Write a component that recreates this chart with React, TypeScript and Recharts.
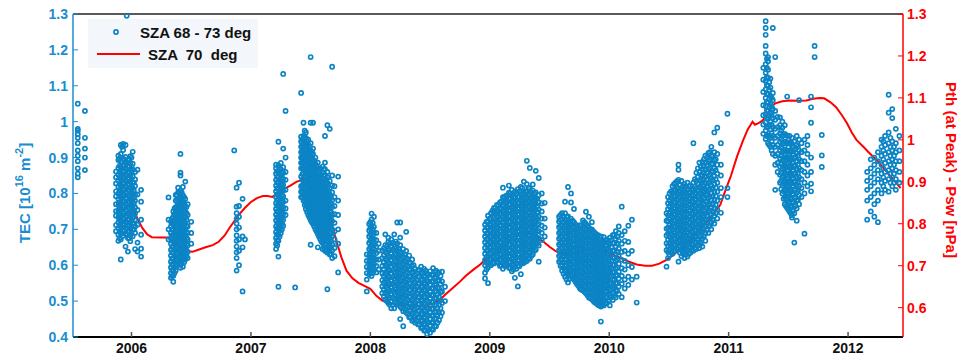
import { ComposedChart, Scatter, Line, XAxis, YAxis } from 'recharts'

// TEC observations, grouped by date column: [year, TEC values (1e16 m^-2)]
const tecColumns: [number, number[]][] = [
  [2005.55, [0.98, 0.975, 0.965, 0.955, 0.94, 0.92, 0.905, 0.89, 0.87, 0.855, 0.845, 1.05]],
  [2005.61, [1.03, 0.955, 0.925, 0.9, 0.865]],
  [2005.87, [0.695, 0.712, 0.738, 0.751, 0.77, 0.792, 0.806, 0.828, 0.845, 0.861]],
  [2005.89, [0.668, 0.685, 0.703, 0.719, 0.734, 0.752, 0.768, 0.785, 0.8, 0.818, 0.836, 0.852, 0.871, 0.893, 0.905]],
  [2005.91, [0.616, 0.672, 0.69, 0.708, 0.724, 0.741, 0.756, 0.772, 0.79, 0.807, 0.823, 0.842, 0.858, 0.874, 0.889, 0.91, 0.935]],
  [2005.93, [0.682, 0.697, 0.715, 0.731, 0.746, 0.763, 0.779, 0.796, 0.812, 0.829, 0.845, 0.862, 0.879, 0.896, 0.921, 0.938]],
  [2005.95, [0.652, 0.687, 0.705, 0.721, 0.738, 0.754, 0.771, 0.787, 0.803, 0.82, 0.838, 0.853, 0.87, 0.888, 0.902, 0.935]],
  [2005.96, [1.295]],
  [2005.97, [0.638, 0.676, 0.694, 0.711, 0.727, 0.744, 0.76, 0.777, 0.794, 0.81, 0.826, 0.843, 0.859, 0.876, 0.892]],
  [2005.99, [0.667, 0.683, 0.701, 0.717, 0.735, 0.75, 0.767, 0.784, 0.8, 0.816, 0.833, 0.851, 0.867, 0.885, 0.904]],
  [2006.01, [0.681, 0.699, 0.716, 0.733, 0.749, 0.765, 0.782, 0.798, 0.815, 0.831, 0.848, 0.866, 0.883, 0.916]],
  [2006.03, [0.645, 0.69, 0.708, 0.726, 0.744, 0.761, 0.78, 0.797, 0.821, 0.839, 0.86]],
  [2006.05, [0.638, 0.663, 0.713, 0.754, 0.797, 0.866]],
  [2006.08, [0.624, 0.646, 0.685, 0.727, 0.777, 0.81]],
  [2006.31, [0.789, 0.727, 0.7, 0.672]],
  [2006.33, [0.565, 0.578, 0.594, 0.61, 0.627, 0.643, 0.66, 0.676, 0.69, 0.708, 0.722]],
  [2006.35, [0.554, 0.571, 0.587, 0.603, 0.619, 0.636, 0.652, 0.668, 0.684, 0.701, 0.717, 0.735, 0.75]],
  [2006.37, [0.585, 0.6, 0.616, 0.632, 0.648, 0.664, 0.68, 0.697, 0.713, 0.73, 0.746, 0.762, 0.78, 0.796]],
  [2006.39, [0.608, 0.624, 0.64, 0.656, 0.672, 0.688, 0.705, 0.721, 0.737, 0.753, 0.77, 0.786, 0.803, 0.816]],
  [2006.41, [0.593, 0.612, 0.628, 0.644, 0.66, 0.677, 0.693, 0.709, 0.725, 0.742, 0.758, 0.774, 0.79, 0.808, 0.85, 0.858, 0.91]],
  [2006.43, [0.596, 0.615, 0.631, 0.647, 0.663, 0.679, 0.696, 0.712, 0.728, 0.745, 0.761, 0.777, 0.795, 0.818]],
  [2006.45, [0.616, 0.632, 0.65, 0.667, 0.683, 0.7, 0.716, 0.733, 0.75, 0.766, 0.785, 0.833]],
  [2006.47, [0.62, 0.637, 0.655, 0.672, 0.69, 0.708, 0.74, 0.77]],
  [2006.5, [0.721, 0.66, 0.69]],
  [2006.86, [0.92]],
  [2006.88, [0.816, 0.763, 0.745, 0.73, 0.716, 0.7, 0.683, 0.668, 0.652, 0.636, 0.62, 0.585]],
  [2006.9, [0.83, 0.765, 0.735, 0.705, 0.672, 0.64, 0.6]],
  [2006.93, [0.785, 0.68, 0.527, 0.65]],
  [2006.95, [0.672]],
  [2007.21, [0.645, 0.66, 0.676, 0.692, 0.708, 0.725, 0.741, 0.757, 0.773, 0.79, 0.806, 0.822, 0.838, 0.855, 0.87, 0.88]],
  [2007.23, [0.54, 0.624, 0.668, 0.684, 0.7, 0.716, 0.733, 0.749, 0.765, 0.782, 0.798, 0.814, 0.83, 0.846, 0.862, 0.878, 0.944]],
  [2007.25, [0.69, 0.706, 0.722, 0.738, 0.754, 0.77, 0.787, 0.803, 0.819, 0.835, 0.852, 0.868, 0.885]],
  [2007.27, [0.71, 0.727, 0.743, 0.76, 0.776, 0.792, 0.808, 0.824, 0.84, 0.857, 0.873, 0.925, 1.133]],
  [2007.29, [0.74, 0.758, 0.78, 0.81, 0.838, 0.86, 0.9, 1.03]],
  [2007.37, [0.538]],
  [2007.42, [0.79, 0.805, 0.82, 0.847, 0.87, 0.885, 0.9, 0.915, 0.93, 0.945, 0.958, 1.08]],
  [2007.44, [0.78, 0.795, 0.81, 0.825, 0.84, 0.856, 0.871, 0.886, 0.9, 0.915, 0.93, 0.944, 0.96, 0.997]],
  [2007.46, [0.757, 0.772, 0.787, 0.802, 0.818, 0.833, 0.848, 0.863, 0.878, 0.893, 0.909, 0.924, 0.94, 0.955, 0.97]],
  [2007.48, [0.74, 0.755, 0.77, 0.786, 0.801, 0.816, 0.831, 0.846, 0.861, 0.877, 0.892, 0.907, 0.922, 0.937, 0.95]],
  [2007.5, [0.657, 0.725, 0.74, 0.755, 0.77, 0.785, 0.8, 0.815, 0.83, 0.845, 0.86, 0.875, 0.89, 0.905, 0.92, 0.94, 0.997, 1.18]],
  [2007.52, [0.715, 0.73, 0.745, 0.76, 0.775, 0.79, 0.805, 0.82, 0.835, 0.85, 0.865, 0.88, 0.895, 0.91, 0.925, 0.997]],
  [2007.54, [0.7, 0.716, 0.731, 0.746, 0.761, 0.776, 0.791, 0.806, 0.821, 0.836, 0.851, 0.866, 0.882, 0.9]],
  [2007.56, [0.65, 0.687, 0.702, 0.717, 0.732, 0.747, 0.762, 0.777, 0.792, 0.807, 0.822, 0.837, 0.852, 0.868, 0.886]],
  [2007.58, [0.673, 0.688, 0.703, 0.718, 0.733, 0.748, 0.763, 0.778, 0.793, 0.808, 0.823, 0.838, 0.853, 0.87]],
  [2007.6, [0.645, 0.662, 0.677, 0.692, 0.707, 0.722, 0.737, 0.752, 0.767, 0.782, 0.797, 0.812, 0.827, 0.842, 0.858, 0.875]],
  [2007.62, [0.64, 0.655, 0.67, 0.685, 0.7, 0.715, 0.73, 0.745, 0.76, 0.775, 0.79, 0.805, 0.82, 0.836, 0.852, 0.868, 0.886, 0.96]],
  [2007.64, [0.533, 0.635, 0.65, 0.665, 0.68, 0.695, 0.71, 0.725, 0.74, 0.755, 0.77, 0.785, 0.8, 0.815, 0.83, 0.845, 0.86, 0.99]],
  [2007.66, [0.63, 0.645, 0.66, 0.675, 0.69, 0.705, 0.72, 0.735, 0.75, 0.765, 0.78, 0.797, 0.815, 0.835, 0.98]],
  [2007.68, [0.62, 0.641, 0.658, 0.682, 0.7, 0.723, 0.74, 0.762, 0.781, 0.803, 0.822, 0.85, 1.153]],
  [2007.7, [0.625, 0.648, 0.672, 0.695, 0.718, 0.742, 0.765, 0.79, 0.82]],
  [2007.73, [0.58, 0.66, 0.7, 0.74, 0.78, 0.847]],
  [2007.97, [0.527, 0.56, 0.578, 0.595, 0.612, 0.63]],
  [2007.99, [0.575, 0.592, 0.61, 0.627, 0.645, 0.662, 0.68, 0.697, 0.715]],
  [2008.01, [0.57, 0.588, 0.605, 0.622, 0.64, 0.657, 0.675, 0.692, 0.71, 0.728, 0.744]],
  [2008.03, [0.585, 0.602, 0.62, 0.637, 0.655, 0.672, 0.69, 0.707, 0.735]],
  [2008.05, [0.58, 0.598, 0.616, 0.634, 0.652, 0.67, 0.69]],
  [2008.07, [0.588, 0.616, 0.64, 0.66]],
  [2008.1, [0.522, 0.541, 0.558, 0.577, 0.598, 0.62, 0.641]],
  [2008.125, [0.505, 0.524, 0.543, 0.562, 0.58, 0.6, 0.618, 0.637, 0.656, 0.686]],
  [2008.15, [0.495, 0.514, 0.533, 0.552, 0.57, 0.589, 0.608, 0.627, 0.646, 0.665, 0.677]],
  [2008.175, [0.48, 0.5, 0.52, 0.539, 0.558, 0.577, 0.596, 0.615, 0.634, 0.653, 0.672]],
  [2008.2, [0.48, 0.505, 0.524, 0.543, 0.562, 0.581, 0.6, 0.619, 0.638, 0.657, 0.686]],
  [2008.225, [0.49, 0.509, 0.528, 0.547, 0.566, 0.585, 0.604, 0.623, 0.642, 0.661, 0.719]],
  [2008.25, [0.45, 0.485, 0.504, 0.523, 0.542, 0.561, 0.58, 0.599, 0.618, 0.637, 0.656, 0.677, 0.719]],
  [2008.275, [0.43, 0.472, 0.491, 0.51, 0.529, 0.548, 0.567, 0.586, 0.605, 0.624, 0.645]],
  [2008.3, [0.468, 0.487, 0.506, 0.525, 0.544, 0.563, 0.582, 0.601, 0.62, 0.64, 0.693]],
  [2008.325, [0.455, 0.474, 0.493, 0.512, 0.531, 0.55, 0.569, 0.588, 0.607, 0.627]],
  [2008.35, [0.445, 0.464, 0.483, 0.502, 0.521, 0.54, 0.559, 0.578, 0.597, 0.616]],
  [2008.375, [0.44, 0.458, 0.477, 0.496, 0.515, 0.534, 0.553, 0.572, 0.59]],
  [2008.4, [0.435, 0.454, 0.473, 0.492, 0.511, 0.53, 0.549, 0.568, 0.587]],
  [2008.425, [0.425, 0.444, 0.463, 0.482, 0.501, 0.52, 0.539, 0.558, 0.577, 0.596]],
  [2008.45, [0.418, 0.437, 0.456, 0.475, 0.494, 0.513, 0.532, 0.551, 0.57, 0.59]],
  [2008.475, [0.408, 0.425, 0.444, 0.463, 0.482, 0.501, 0.52, 0.539, 0.558, 0.577]],
  [2008.5, [0.412, 0.431, 0.45, 0.469, 0.488, 0.507, 0.526, 0.545, 0.564, 0.583]],
  [2008.525, [0.42, 0.44, 0.459, 0.478, 0.497, 0.516, 0.535, 0.554, 0.573, 0.592]],
  [2008.55, [0.43, 0.452, 0.471, 0.49, 0.509, 0.528, 0.547, 0.566, 0.585]],
  [2008.575, [0.447, 0.468, 0.49, 0.512, 0.535, 0.558, 0.58]],
  [2008.6, [0.468, 0.495, 0.527, 0.555, 0.582]],
  [2008.625, [0.5, 0.54]],
  [2008.96, [0.563, 0.579, 0.6, 0.615, 0.632, 0.648, 0.664, 0.68, 0.697, 0.713]],
  [2008.985, [0.55, 0.594, 0.61, 0.626, 0.642, 0.658, 0.674, 0.69, 0.706, 0.722, 0.738]],
  [2009.01, [0.6, 0.616, 0.632, 0.648, 0.664, 0.68, 0.696, 0.712, 0.728, 0.745]],
  [2009.035, [0.605, 0.621, 0.637, 0.653, 0.669, 0.685, 0.701, 0.717, 0.733, 0.749, 0.76]],
  [2009.06, [0.61, 0.626, 0.642, 0.658, 0.674, 0.69, 0.706, 0.722, 0.738, 0.754, 0.768]],
  [2009.085, [0.598, 0.614, 0.63, 0.646, 0.662, 0.678, 0.694, 0.71, 0.726, 0.742, 0.758, 0.775]],
  [2009.11, [0.59, 0.608, 0.624, 0.64, 0.656, 0.672, 0.688, 0.704, 0.72, 0.736, 0.752, 0.768, 0.79, 0.816]],
  [2009.135, [0.6, 0.616, 0.632, 0.648, 0.664, 0.68, 0.696, 0.712, 0.728, 0.744, 0.76, 0.776, 0.793]],
  [2009.16, [0.593, 0.609, 0.625, 0.641, 0.657, 0.673, 0.689, 0.705, 0.721, 0.737, 0.753, 0.769, 0.785, 0.802, 0.822]],
  [2009.185, [0.583, 0.6, 0.618, 0.634, 0.65, 0.666, 0.682, 0.698, 0.714, 0.73, 0.746, 0.762, 0.778, 0.795, 0.81]],
  [2009.21, [0.565, 0.596, 0.612, 0.628, 0.644, 0.66, 0.676, 0.692, 0.708, 0.724, 0.74, 0.756, 0.772, 0.788, 0.805]],
  [2009.235, [0.541, 0.598, 0.614, 0.63, 0.646, 0.662, 0.678, 0.694, 0.71, 0.726, 0.742, 0.758, 0.774, 0.79, 0.812]],
  [2009.26, [0.575, 0.605, 0.621, 0.637, 0.653, 0.669, 0.685, 0.701, 0.717, 0.733, 0.749, 0.765, 0.781, 0.798, 0.818]],
  [2009.285, [0.607, 0.623, 0.639, 0.655, 0.671, 0.687, 0.703, 0.719, 0.735, 0.751, 0.767, 0.783, 0.8, 0.833]],
  [2009.31, [0.612, 0.628, 0.644, 0.66, 0.676, 0.692, 0.708, 0.724, 0.74, 0.756, 0.772, 0.788, 0.805, 0.826, 0.891]],
  [2009.335, [0.618, 0.634, 0.65, 0.666, 0.682, 0.698, 0.714, 0.73, 0.746, 0.762, 0.778, 0.795, 0.815, 0.871]],
  [2009.36, [0.63, 0.646, 0.662, 0.678, 0.694, 0.71, 0.726, 0.742, 0.758, 0.774, 0.79, 0.808, 0.825]],
  [2009.385, [0.643, 0.659, 0.675, 0.691, 0.707, 0.723, 0.739, 0.755, 0.771, 0.787, 0.803, 0.863]],
  [2009.41, [0.61, 0.655, 0.675, 0.695, 0.715, 0.735, 0.755, 0.775, 0.795, 0.843]],
  [2009.435, [0.67, 0.69, 0.71, 0.73, 0.75, 0.772, 0.8]],
  [2009.46, [0.68, 0.705, 0.73, 0.774]],
  [2009.58, [0.61, 0.626, 0.642, 0.658, 0.674, 0.69, 0.706, 0.722, 0.735]],
  [2009.605, [0.585, 0.6, 0.616, 0.632, 0.648, 0.664, 0.68, 0.696, 0.712, 0.728, 0.745]],
  [2009.63, [0.568, 0.584, 0.6, 0.616, 0.632, 0.648, 0.664, 0.68, 0.696, 0.712, 0.728, 0.745, 0.777]],
  [2009.655, [0.552, 0.576, 0.592, 0.608, 0.624, 0.64, 0.656, 0.672, 0.688, 0.704, 0.72, 0.736, 0.818]],
  [2009.68, [0.57, 0.586, 0.602, 0.618, 0.634, 0.65, 0.666, 0.682, 0.698, 0.714, 0.73, 0.8, 0.775]],
  [2009.705, [0.56, 0.576, 0.592, 0.608, 0.624, 0.64, 0.656, 0.672, 0.688, 0.704, 0.72, 0.757]],
  [2009.73, [0.548, 0.564, 0.58, 0.596, 0.612, 0.628, 0.644, 0.66, 0.676, 0.692, 0.708]],
  [2009.755, [0.535, 0.551, 0.567, 0.583, 0.599, 0.615, 0.631, 0.647, 0.663, 0.679, 0.695, 0.712]],
  [2009.78, [0.53, 0.546, 0.562, 0.578, 0.594, 0.61, 0.626, 0.642, 0.658, 0.674, 0.69, 0.706, 0.725]],
  [2009.805, [0.522, 0.538, 0.554, 0.57, 0.586, 0.602, 0.618, 0.634, 0.65, 0.666, 0.682, 0.698, 0.715, 0.749]],
  [2009.83, [0.51, 0.526, 0.542, 0.558, 0.574, 0.59, 0.606, 0.622, 0.638, 0.654, 0.67, 0.686, 0.705, 0.735]],
  [2009.855, [0.505, 0.521, 0.537, 0.553, 0.569, 0.585, 0.601, 0.617, 0.633, 0.649, 0.665, 0.681, 0.7, 0.72]],
  [2009.88, [0.496, 0.512, 0.528, 0.544, 0.56, 0.576, 0.592, 0.608, 0.624, 0.64, 0.656, 0.672, 0.69]],
  [2009.905, [0.49, 0.506, 0.522, 0.538, 0.554, 0.57, 0.586, 0.602, 0.618, 0.634, 0.65, 0.666, 0.684]],
  [2009.93, [0.443, 0.485, 0.501, 0.517, 0.533, 0.549, 0.565, 0.581, 0.597, 0.613, 0.629, 0.645, 0.661, 0.68]],
  [2009.955, [0.488, 0.504, 0.52, 0.536, 0.552, 0.568, 0.584, 0.6, 0.616, 0.632, 0.648, 0.664, 0.678]],
  [2009.98, [0.495, 0.511, 0.527, 0.543, 0.559, 0.575, 0.591, 0.607, 0.623, 0.639, 0.655, 0.671]],
  [2010.005, [0.488, 0.515, 0.533, 0.551, 0.569, 0.587, 0.605, 0.623, 0.641, 0.659, 0.677]],
  [2010.03, [0.503, 0.522, 0.543, 0.561, 0.582, 0.601, 0.622, 0.64, 0.662, 0.684]],
  [2010.055, [0.51, 0.531, 0.55, 0.572, 0.59, 0.612, 0.63, 0.652, 0.673, 0.695]],
  [2010.08, [0.52, 0.541, 0.563, 0.582, 0.604, 0.625, 0.646, 0.668, 0.69, 0.708]],
  [2010.105, [0.511, 0.548, 0.57, 0.592, 0.615, 0.637, 0.66, 0.684, 0.763]],
  [2010.13, [0.535, 0.56, 0.588, 0.612, 0.64, 0.668, 0.695]],
  [2010.16, [0.545, 0.568, 0.6, 0.632, 0.665, 0.71]],
  [2010.19, [0.56, 0.595, 0.64, 0.727]],
  [2010.23, [0.496, 0.568]],
  [2010.48, [0.596, 0.642, 0.661, 0.683, 0.702, 0.724, 0.745]],
  [2010.505, [0.628, 0.645, 0.662, 0.679, 0.696, 0.713, 0.73, 0.747, 0.764, 0.78, 0.8]],
  [2010.53, [0.632, 0.649, 0.666, 0.683, 0.7, 0.717, 0.734, 0.751, 0.768, 0.785, 0.802, 0.82]],
  [2010.555, [0.64, 0.657, 0.674, 0.691, 0.708, 0.725, 0.742, 0.759, 0.776, 0.793, 0.81, 0.83]],
  [2010.58, [0.61, 0.645, 0.662, 0.679, 0.696, 0.713, 0.73, 0.747, 0.764, 0.781, 0.798, 0.815, 0.838, 0.866, 0.88]],
  [2010.605, [0.625, 0.642, 0.659, 0.676, 0.693, 0.71, 0.727, 0.744, 0.761, 0.778, 0.795, 0.812, 0.835]],
  [2010.63, [0.62, 0.638, 0.655, 0.672, 0.689, 0.706, 0.723, 0.74, 0.757, 0.774, 0.791, 0.808, 0.826]],
  [2010.655, [0.624, 0.641, 0.658, 0.675, 0.692, 0.709, 0.726, 0.743, 0.76, 0.777, 0.794, 0.811, 0.83]],
  [2010.68, [0.635, 0.652, 0.669, 0.686, 0.703, 0.72, 0.737, 0.754, 0.771, 0.788, 0.805, 0.822]],
  [2010.705, [0.64, 0.657, 0.674, 0.691, 0.708, 0.725, 0.742, 0.759, 0.776, 0.793, 0.81, 0.83, 0.94]],
  [2010.73, [0.645, 0.662, 0.679, 0.696, 0.713, 0.73, 0.747, 0.764, 0.781, 0.798, 0.815, 0.835, 0.858]],
  [2010.755, [0.648, 0.665, 0.682, 0.699, 0.716, 0.733, 0.75, 0.767, 0.784, 0.801, 0.818, 0.837, 0.86, 0.886]],
  [2010.78, [0.652, 0.675, 0.695, 0.712, 0.729, 0.746, 0.763, 0.78, 0.797, 0.814, 0.831, 0.85, 0.868, 0.888]],
  [2010.805, [0.668, 0.69, 0.71, 0.727, 0.744, 0.761, 0.778, 0.795, 0.812, 0.829, 0.846, 0.865, 0.885, 0.905]],
  [2010.83, [0.69, 0.708, 0.728, 0.748, 0.768, 0.788, 0.808, 0.828, 0.848, 0.868, 0.89, 0.912]],
  [2010.855, [0.7, 0.72, 0.742, 0.762, 0.782, 0.802, 0.822, 0.842, 0.862, 0.882, 0.905, 0.93]],
  [2010.88, [0.716, 0.738, 0.76, 0.782, 0.804, 0.826, 0.848, 0.87, 0.892, 0.915, 0.97]],
  [2010.905, [0.73, 0.755, 0.78, 0.805, 0.83, 0.855, 0.88, 0.91, 0.983]],
  [2010.935, [0.746, 0.79, 0.815, 0.85, 0.88, 0.94]],
  [2010.99, [1.022, 0.79, 0.815]],
  [2011.29, [0.966, 0.992, 1.018, 1.046, 1.083, 1.117, 1.15]],
  [2011.31, [0.952, 0.975, 0.998, 1.02, 1.043, 1.066, 1.09, 1.113, 1.136, 1.16, 1.19, 1.211, 1.242, 1.261, 1.28]],
  [2011.33, [0.94, 0.962, 0.985, 1.008, 1.03, 1.053, 1.076, 1.1, 1.122, 1.145, 1.168, 1.18]],
  [2011.35, [0.93, 0.955, 0.978, 1.0, 1.024, 1.048, 1.072, 1.095, 1.12]],
  [2011.37, [0.91, 0.935, 0.96, 0.985, 1.01, 1.035, 1.06, 1.08, 1.261]],
  [2011.39, [0.81, 0.88, 0.905, 0.93, 0.955, 0.98, 1.005, 1.03, 1.18]],
  [2011.41, [0.86, 0.885, 0.91, 0.935, 0.96, 0.985, 1.013]],
  [2011.43, [0.83, 0.852, 0.875, 0.898, 0.921, 0.944, 0.967, 0.99, 1.012]],
  [2011.45, [0.8, 0.822, 0.845, 0.868, 0.891, 0.914, 0.937, 0.96, 0.983, 1.0]],
  [2011.47, [0.77, 0.79, 0.812, 0.834, 0.856, 0.878, 0.9, 0.922, 0.944, 0.966, 0.99]],
  [2011.49, [0.76, 0.781, 0.799, 0.822, 0.84, 0.863, 0.881, 0.902, 0.92, 0.943, 0.962, 1.07]],
  [2011.51, [0.75, 0.772, 0.793, 0.814, 0.835, 0.856, 0.877, 0.898, 0.919, 0.94, 0.96]],
  [2011.53, [0.733, 0.74, 0.762, 0.784, 0.806, 0.828, 0.85, 0.872, 0.894, 0.916, 0.938, 0.955]],
  [2011.55, [0.663, 0.745, 0.768, 0.79, 0.812, 0.834, 0.856, 0.878, 0.9, 0.922, 0.945]],
  [2011.57, [0.724, 0.758, 0.78, 0.802, 0.824, 0.846, 0.868, 0.89, 0.912, 0.935, 0.96]],
  [2011.59, [0.77, 0.795, 0.82, 0.845, 0.87, 0.895, 0.92, 0.95, 1.06]],
  [2011.61, [0.79, 0.815, 0.84, 0.865, 0.89, 0.915, 0.94]],
  [2011.635, [0.688, 0.8, 0.83, 0.86, 0.89, 0.92, 0.95]],
  [2011.66, [0.82, 0.85, 0.88, 0.91, 0.935, 0.96]],
  [2011.69, [0.806, 0.827, 0.86, 0.9, 0.997, 1.04, 1.07]],
  [2011.72, [1.211, 1.18]],
  [2011.78, [0.963, 0.906, 0.874]],
  [2012.16, [0.727, 0.78, 0.81, 0.835, 0.86]],
  [2012.19, [0.75, 0.79, 0.82, 0.845, 0.87, 0.895]],
  [2012.22, [0.735, 0.77, 0.8, 0.83, 0.855, 0.88, 0.9]],
  [2012.25, [0.72, 0.78, 0.81, 0.84, 0.865, 0.89, 0.915]],
  [2012.28, [0.8, 0.83, 0.855, 0.88, 0.905, 0.93, 0.95]],
  [2012.31, [0.81, 0.835, 0.86, 0.885, 0.91, 0.935, 0.96]],
  [2012.34, [0.805, 0.84, 0.865, 0.89, 0.915, 0.94, 0.97, 1.025, 1.075]],
  [2012.37, [0.82, 0.845, 0.87, 0.895, 0.92, 0.945, 1.01, 1.035]],
  [2012.4, [0.81, 0.84, 0.865, 0.89, 0.915, 0.94, 0.98]],
  [2012.43, [0.83, 0.86, 0.89, 0.92, 0.96]],
]

// more TEC observations inside the dense parts of each season
const tecDenseColumns: [number, number[]][] = [
  [2005.9, [0.676, 0.694, 0.711, 0.727, 0.743, 0.76, 0.776, 0.793, 0.81, 0.826, 0.843, 0.86, 0.877, 0.897]],
  [2005.92, [0.689, 0.706, 0.722, 0.738, 0.755, 0.771, 0.788, 0.804, 0.82, 0.837, 0.853, 0.87, 0.887, 0.93]],
  [2005.94, [0.695, 0.713, 0.729, 0.745, 0.762, 0.778, 0.795, 0.811, 0.828, 0.844, 0.861, 0.879, 0.895]],
  [2005.96, [0.685, 0.702, 0.719, 0.735, 0.752, 0.768, 0.785, 0.801, 0.818, 0.834, 0.851, 0.867, 0.884]],
  [2005.98, [0.675, 0.692, 0.709, 0.726, 0.742, 0.759, 0.775, 0.792, 0.808, 0.825, 0.841, 0.858, 0.875, 0.895]],
  [2006.0, [0.69, 0.707, 0.724, 0.741, 0.757, 0.774, 0.79, 0.807, 0.823, 0.84, 0.857, 0.874, 0.9]],
  [2006.02, [0.7, 0.717, 0.735, 0.752, 0.771, 0.789, 0.808, 0.83]],
  [2006.34, [0.57, 0.586, 0.602, 0.618, 0.635, 0.651, 0.668, 0.684, 0.7, 0.716, 0.73]],
  [2006.36, [0.578, 0.594, 0.61, 0.626, 0.643, 0.659, 0.676, 0.692, 0.708, 0.725, 0.742, 0.758]],
  [2006.38, [0.6, 0.616, 0.632, 0.648, 0.664, 0.68, 0.697, 0.713, 0.729, 0.745, 0.762, 0.778, 0.795]],
  [2006.4, [0.602, 0.618, 0.635, 0.651, 0.667, 0.684, 0.7, 0.716, 0.733, 0.75, 0.766, 0.782, 0.8]],
  [2006.42, [0.605, 0.622, 0.638, 0.655, 0.671, 0.687, 0.704, 0.72, 0.737, 0.753, 0.77, 0.786, 0.803]],
  [2006.44, [0.608, 0.624, 0.64, 0.657, 0.673, 0.69, 0.706, 0.722, 0.739, 0.755, 0.772, 0.79]],
  [2006.46, [0.625, 0.642, 0.659, 0.676, 0.693, 0.71, 0.727, 0.745, 0.762]],
  [2007.22, [0.655, 0.67, 0.686, 0.702, 0.718, 0.734, 0.75, 0.766, 0.782, 0.798, 0.814, 0.83, 0.846, 0.862]],
  [2007.24, [0.68, 0.696, 0.712, 0.728, 0.744, 0.76, 0.776, 0.792, 0.808, 0.824, 0.84, 0.856, 0.872]],
  [2007.26, [0.7, 0.716, 0.732, 0.748, 0.764, 0.78, 0.796, 0.812, 0.828, 0.844, 0.86]],
  [2007.43, [0.79, 0.806, 0.822, 0.838, 0.854, 0.87, 0.886, 0.902, 0.918, 0.934, 0.95]],
  [2007.45, [0.768, 0.784, 0.8, 0.815, 0.83, 0.846, 0.862, 0.877, 0.893, 0.908, 0.924, 0.94, 0.956, 0.975]],
  [2007.47, [0.748, 0.764, 0.779, 0.795, 0.81, 0.826, 0.841, 0.856, 0.871, 0.886, 0.901, 0.916, 0.931, 0.946]],
  [2007.49, [0.733, 0.748, 0.763, 0.778, 0.793, 0.808, 0.823, 0.838, 0.853, 0.868, 0.883, 0.898, 0.913, 0.93]],
  [2007.51, [0.72, 0.735, 0.75, 0.765, 0.78, 0.795, 0.81, 0.825, 0.84, 0.855, 0.87, 0.885, 0.9, 0.915]],
  [2007.53, [0.708, 0.723, 0.738, 0.753, 0.768, 0.783, 0.798, 0.813, 0.828, 0.843, 0.858, 0.873, 0.89]],
  [2007.55, [0.694, 0.709, 0.724, 0.739, 0.754, 0.769, 0.784, 0.799, 0.814, 0.829, 0.844, 0.86, 0.877]],
  [2007.57, [0.68, 0.695, 0.71, 0.725, 0.74, 0.755, 0.77, 0.785, 0.8, 0.815, 0.83, 0.845, 0.862]],
  [2007.59, [0.666, 0.681, 0.696, 0.711, 0.726, 0.741, 0.756, 0.771, 0.786, 0.801, 0.816, 0.832, 0.85]],
  [2007.61, [0.65, 0.666, 0.681, 0.696, 0.711, 0.726, 0.741, 0.756, 0.771, 0.786, 0.801, 0.817, 0.833, 0.85, 0.868]],
  [2007.63, [0.643, 0.658, 0.673, 0.688, 0.703, 0.718, 0.733, 0.748, 0.763, 0.778, 0.793, 0.808, 0.824, 0.84]],
  [2007.65, [0.638, 0.653, 0.668, 0.683, 0.698, 0.713, 0.728, 0.743, 0.758, 0.773, 0.79, 0.806]],
  [2007.67, [0.632, 0.65, 0.668, 0.688, 0.708, 0.728, 0.748, 0.77, 0.79]],
  [2008.0, [0.58, 0.597, 0.614, 0.632, 0.65, 0.668, 0.686, 0.703, 0.72]],
  [2008.02, [0.578, 0.596, 0.613, 0.63, 0.648, 0.666, 0.683, 0.7, 0.718]],
  [2008.1125, [0.513, 0.532, 0.551, 0.57, 0.589, 0.608, 0.628, 0.647]],
  [2008.1375, [0.5, 0.519, 0.538, 0.557, 0.576, 0.595, 0.614, 0.633, 0.652]],
  [2008.1625, [0.49, 0.509, 0.528, 0.547, 0.566, 0.585, 0.604, 0.623, 0.642, 0.66]],
  [2008.1875, [0.49, 0.51, 0.529, 0.548, 0.567, 0.586, 0.605, 0.624, 0.643, 0.662]],
  [2008.2125, [0.495, 0.514, 0.533, 0.552, 0.571, 0.59, 0.609, 0.628, 0.647, 0.666]],
  [2008.2375, [0.494, 0.513, 0.532, 0.551, 0.57, 0.589, 0.608, 0.627, 0.646]],
  [2008.2625, [0.48, 0.499, 0.518, 0.537, 0.556, 0.575, 0.594, 0.613, 0.632]],
  [2008.2875, [0.477, 0.496, 0.515, 0.534, 0.553, 0.572, 0.591, 0.61, 0.63]],
  [2008.3125, [0.464, 0.483, 0.502, 0.521, 0.54, 0.559, 0.578, 0.597, 0.616]],
  [2008.3375, [0.455, 0.474, 0.493, 0.512, 0.531, 0.55, 0.569, 0.588, 0.606]],
  [2008.3625, [0.449, 0.468, 0.487, 0.506, 0.525, 0.544, 0.563, 0.582, 0.6]],
  [2008.3875, [0.444, 0.463, 0.482, 0.501, 0.52, 0.539, 0.558, 0.577]],
  [2008.4125, [0.435, 0.454, 0.473, 0.492, 0.511, 0.53, 0.549, 0.568, 0.586]],
  [2008.4375, [0.427, 0.446, 0.465, 0.484, 0.503, 0.522, 0.541, 0.56, 0.58]],
  [2008.4625, [0.418, 0.434, 0.453, 0.472, 0.491, 0.51, 0.529, 0.548, 0.567, 0.585]],
  [2008.4875, [0.42, 0.44, 0.459, 0.478, 0.497, 0.516, 0.535, 0.554, 0.573]],
  [2008.5125, [0.422, 0.441, 0.46, 0.479, 0.498, 0.517, 0.536, 0.555, 0.574]],
  [2008.5375, [0.43, 0.45, 0.469, 0.488, 0.507, 0.526, 0.545, 0.564, 0.582]],
  [2008.5625, [0.44, 0.461, 0.481, 0.5, 0.519, 0.538, 0.557, 0.576]],
  [2008.5875, [0.458, 0.48, 0.502, 0.525, 0.548, 0.57]],
  [2008.9725, [0.588, 0.607, 0.623, 0.64, 0.656, 0.672, 0.688, 0.705, 0.721]],
  [2008.9975, [0.602, 0.618, 0.634, 0.65, 0.666, 0.682, 0.698, 0.714, 0.73]],
  [2009.0225, [0.607, 0.624, 0.64, 0.656, 0.672, 0.688, 0.704, 0.72, 0.737, 0.752]],
  [2009.0475, [0.617, 0.633, 0.649, 0.665, 0.681, 0.697, 0.713, 0.729, 0.745, 0.76]],
  [2009.0725, [0.606, 0.622, 0.638, 0.654, 0.67, 0.686, 0.702, 0.718, 0.734, 0.75, 0.766]],
  [2009.0975, [0.6, 0.616, 0.632, 0.648, 0.664, 0.68, 0.696, 0.712, 0.728, 0.744, 0.76, 0.778]],
  [2009.1225, [0.598, 0.614, 0.63, 0.646, 0.662, 0.678, 0.694, 0.71, 0.726, 0.742, 0.758, 0.774, 0.79]],
  [2009.1475, [0.601, 0.617, 0.633, 0.649, 0.665, 0.681, 0.697, 0.713, 0.729, 0.745, 0.761, 0.777, 0.795]],
  [2009.1725, [0.592, 0.608, 0.624, 0.64, 0.656, 0.672, 0.688, 0.704, 0.72, 0.736, 0.752, 0.768, 0.784, 0.8]],
  [2009.1975, [0.588, 0.604, 0.62, 0.636, 0.652, 0.668, 0.684, 0.7, 0.716, 0.732, 0.748, 0.764, 0.78, 0.797]],
  [2009.2225, [0.59, 0.606, 0.622, 0.638, 0.654, 0.67, 0.686, 0.702, 0.718, 0.734, 0.75, 0.766, 0.782, 0.8]],
  [2009.2475, [0.597, 0.613, 0.629, 0.645, 0.661, 0.677, 0.693, 0.709, 0.725, 0.741, 0.757, 0.773, 0.79, 0.806]],
  [2009.2725, [0.605, 0.621, 0.637, 0.653, 0.669, 0.685, 0.701, 0.717, 0.733, 0.749, 0.765, 0.781, 0.797, 0.815]],
  [2009.2975, [0.61, 0.626, 0.642, 0.658, 0.674, 0.69, 0.706, 0.722, 0.738, 0.754, 0.77, 0.786, 0.805]],
  [2009.3225, [0.62, 0.636, 0.652, 0.668, 0.684, 0.7, 0.716, 0.732, 0.748, 0.764, 0.78, 0.797, 0.815]],
  [2009.3475, [0.626, 0.642, 0.658, 0.674, 0.69, 0.706, 0.722, 0.738, 0.754, 0.77, 0.786, 0.803]],
  [2009.3725, [0.64, 0.656, 0.672, 0.688, 0.704, 0.72, 0.736, 0.752, 0.768, 0.784, 0.8]],
  [2009.3975, [0.66, 0.677, 0.694, 0.712, 0.73, 0.748, 0.766, 0.785]],
  [2009.5925, [0.598, 0.614, 0.63, 0.646, 0.662, 0.678, 0.694, 0.71, 0.726, 0.74]],
  [2009.6175, [0.576, 0.592, 0.608, 0.624, 0.64, 0.656, 0.672, 0.688, 0.704, 0.72, 0.736]],
  [2009.6425, [0.56, 0.576, 0.592, 0.608, 0.624, 0.64, 0.656, 0.672, 0.688, 0.704, 0.72, 0.735]],
  [2009.6675, [0.562, 0.578, 0.594, 0.61, 0.626, 0.642, 0.658, 0.674, 0.69, 0.706, 0.722]],
  [2009.6925, [0.565, 0.58, 0.596, 0.612, 0.628, 0.644, 0.66, 0.676, 0.692, 0.708, 0.724]],
  [2009.7175, [0.554, 0.57, 0.586, 0.602, 0.618, 0.634, 0.65, 0.666, 0.682, 0.698, 0.714]],
  [2009.7425, [0.542, 0.558, 0.574, 0.59, 0.606, 0.622, 0.638, 0.654, 0.67, 0.686, 0.702]],
  [2009.7675, [0.532, 0.548, 0.564, 0.58, 0.596, 0.612, 0.628, 0.644, 0.66, 0.676, 0.692, 0.71]],
  [2009.7925, [0.526, 0.542, 0.558, 0.574, 0.59, 0.606, 0.622, 0.638, 0.654, 0.67, 0.686, 0.702, 0.72]],
  [2009.8175, [0.516, 0.532, 0.548, 0.564, 0.58, 0.596, 0.612, 0.628, 0.644, 0.66, 0.676, 0.692, 0.71]],
  [2009.8425, [0.508, 0.524, 0.54, 0.556, 0.572, 0.588, 0.604, 0.62, 0.636, 0.652, 0.668, 0.684, 0.7]],
  [2009.8675, [0.5, 0.516, 0.532, 0.548, 0.564, 0.58, 0.596, 0.612, 0.628, 0.644, 0.66, 0.676, 0.694]],
  [2009.8925, [0.494, 0.51, 0.526, 0.542, 0.558, 0.574, 0.59, 0.606, 0.622, 0.638, 0.654, 0.67, 0.686]],
  [2009.9175, [0.488, 0.504, 0.52, 0.536, 0.552, 0.568, 0.584, 0.6, 0.616, 0.632, 0.648, 0.664, 0.68]],
  [2009.9425, [0.49, 0.506, 0.522, 0.538, 0.554, 0.57, 0.586, 0.602, 0.618, 0.634, 0.65, 0.666]],
  [2009.9675, [0.494, 0.51, 0.526, 0.542, 0.558, 0.574, 0.59, 0.606, 0.622, 0.638, 0.654, 0.67]],
  [2009.9925, [0.5, 0.52, 0.538, 0.556, 0.574, 0.592, 0.61, 0.628, 0.646, 0.664]],
  [2010.0175, [0.51, 0.53, 0.55, 0.57, 0.59, 0.61, 0.63, 0.65, 0.67]],
  [2010.0425, [0.515, 0.537, 0.558, 0.58, 0.6, 0.62, 0.641, 0.662, 0.685]],
  [2010.0675, [0.528, 0.55, 0.572, 0.594, 0.616, 0.638, 0.66, 0.68]],
  [2010.4925, [0.62, 0.637, 0.654, 0.671, 0.688, 0.705, 0.722, 0.739, 0.756, 0.773, 0.79]],
  [2010.5175, [0.636, 0.653, 0.67, 0.687, 0.704, 0.721, 0.738, 0.755, 0.772, 0.789, 0.806]],
  [2010.5425, [0.64, 0.657, 0.674, 0.691, 0.708, 0.725, 0.742, 0.759, 0.776, 0.793, 0.81, 0.826]],
  [2010.5675, [0.645, 0.662, 0.679, 0.696, 0.713, 0.73, 0.747, 0.764, 0.781, 0.798, 0.815, 0.834]],
  [2010.5925, [0.635, 0.652, 0.669, 0.686, 0.703, 0.72, 0.737, 0.754, 0.771, 0.788, 0.805, 0.823]],
  [2010.6175, [0.632, 0.649, 0.666, 0.683, 0.7, 0.717, 0.734, 0.751, 0.768, 0.785, 0.802, 0.82]],
  [2010.6425, [0.63, 0.647, 0.664, 0.681, 0.698, 0.715, 0.732, 0.749, 0.766, 0.783, 0.8, 0.818]],
  [2010.6675, [0.632, 0.649, 0.666, 0.683, 0.7, 0.717, 0.734, 0.751, 0.768, 0.785, 0.802, 0.82]],
  [2010.6925, [0.643, 0.66, 0.677, 0.694, 0.711, 0.728, 0.745, 0.762, 0.779, 0.796, 0.813]],
  [2010.7175, [0.648, 0.665, 0.682, 0.699, 0.716, 0.733, 0.75, 0.767, 0.784, 0.801, 0.82, 0.84]],
  [2010.7425, [0.655, 0.672, 0.689, 0.706, 0.723, 0.74, 0.757, 0.774, 0.791, 0.808, 0.826, 0.846, 0.87]],
  [2010.7675, [0.66, 0.68, 0.698, 0.715, 0.732, 0.749, 0.766, 0.783, 0.8, 0.817, 0.835, 0.852, 0.874]],
  [2010.7925, [0.68, 0.7, 0.719, 0.736, 0.753, 0.77, 0.787, 0.804, 0.821, 0.838, 0.856, 0.876, 0.895]],
  [2010.8175, [0.698, 0.718, 0.738, 0.758, 0.778, 0.798, 0.818, 0.838, 0.858, 0.878, 0.9]],
  [2010.8425, [0.71, 0.73, 0.752, 0.772, 0.792, 0.812, 0.832, 0.852, 0.872, 0.893, 0.915]],
  [2010.8675, [0.725, 0.748, 0.77, 0.792, 0.815, 0.837, 0.86, 0.882, 0.905]],
  [2010.8925, [0.745, 0.768, 0.792, 0.816, 0.84, 0.865, 0.895]],
  [2011.32, [0.96, 0.985, 1.01, 1.032, 1.055, 1.078, 1.102, 1.125, 1.15, 1.175]],
  [2011.34, [0.935, 0.96, 0.99, 1.015, 1.04, 1.063, 1.088, 1.11]],
  [2011.36, [0.92, 0.945, 0.968, 0.992, 1.018, 1.042, 1.066]],
  [2011.44, [0.812, 0.835, 0.858, 0.882, 0.905, 0.928, 0.951, 0.975]],
  [2011.46, [0.785, 0.806, 0.828, 0.85, 0.873, 0.895, 0.918, 0.94, 0.962]],
  [2011.48, [0.765, 0.786, 0.808, 0.83, 0.852, 0.874, 0.896, 0.918, 0.94]],
  [2011.5, [0.755, 0.776, 0.797, 0.818, 0.84, 0.862, 0.884, 0.906, 0.928, 0.95]],
  [2011.52, [0.745, 0.766, 0.788, 0.81, 0.832, 0.854, 0.876, 0.898, 0.92, 0.942]],
  [2011.54, [0.752, 0.775, 0.797, 0.82, 0.842, 0.864, 0.886, 0.908, 0.93]],
  [2011.56, [0.765, 0.788, 0.81, 0.832, 0.855, 0.877, 0.9, 0.925]],
  [2011.58, [0.782, 0.806, 0.83, 0.855, 0.88, 0.905, 0.93]],
  [2012.295, [0.82, 0.845, 0.87, 0.895, 0.92, 0.945]],
  [2012.355, [0.83, 0.855, 0.88, 0.905, 0.93, 0.955]],
  [2012.385, [0.83, 0.855, 0.88, 0.905, 0.93]],
]

// Pth (at peak) - Psw model curve at SZA 70 deg
const pthYears = [
  2006.01, 2006.05, 2006.09, 2006.13, 2006.17, 2006.24, 2006.3, 2006.35, 2006.4, 2006.46,
  2006.51, 2006.56, 2006.62, 2006.68, 2006.73, 2006.78, 2006.82, 2006.86, 2006.9, 2006.95,
  2007.0, 2007.05, 2007.1, 2007.14, 2007.18, 2007.22, 2007.27, 2007.33, 2007.38, 2007.43,
  2007.47, 2007.52, 2007.56, 2007.6, 2007.64, 2007.67, 2007.7, 2007.73, 2007.76, 2007.8,
  2007.85, 2007.9, 2007.95, 2008.0, 2008.05, 2008.1, 2008.15, 2008.2, 2008.25, 2008.3,
  2008.36, 2008.42, 2008.47, 2008.52, 2008.58, 2008.63, 2008.69, 2008.75, 2008.8, 2008.86,
  2008.92, 2008.97, 2009.02, 2009.08, 2009.13, 2009.19, 2009.24, 2009.29, 2009.34, 2009.39,
  2009.45, 2009.5, 2009.55, 2009.59, 2009.64, 2009.7, 2009.76, 2009.82, 2009.88, 2009.95,
  2010.02, 2010.09, 2010.16, 2010.23, 2010.3, 2010.36, 2010.42, 2010.48, 2010.54, 2010.59,
  2010.66, 2010.73, 2010.8, 2010.87, 2010.93, 2010.98, 2011.02, 2011.07, 2011.12, 2011.16,
  2011.2, 2011.22, 2011.25, 2011.28, 2011.32, 2011.35, 2011.39, 2011.45, 2011.51, 2011.58,
  2011.65, 2011.71, 2011.76, 2011.8, 2011.85, 2011.9, 2011.95, 2011.99, 2012.03, 2012.07,
  2012.13, 2012.18, 2012.24, 2012.29, 2012.35, 2012.4, 2012.44,
]
const pthValues = [
  0.838, 0.812, 0.79, 0.775, 0.768, 0.767, 0.767, 0.76, 0.748, 0.735,
  0.733, 0.738, 0.744, 0.749, 0.757, 0.772, 0.79, 0.806, 0.822, 0.838,
  0.852, 0.861, 0.866, 0.866, 0.864, 0.872, 0.882, 0.891, 0.9, 0.905,
  0.901, 0.893, 0.88, 0.862, 0.835, 0.805, 0.775, 0.745, 0.718, 0.688,
  0.67, 0.659, 0.652, 0.645, 0.628, 0.617, 0.611, 0.609, 0.607, 0.606,
  0.604, 0.604, 0.605, 0.609, 0.618, 0.632, 0.647, 0.662, 0.676, 0.69,
  0.703, 0.717, 0.728, 0.738, 0.752, 0.767, 0.778, 0.783, 0.778, 0.769,
  0.757, 0.745, 0.735, 0.729, 0.729, 0.733, 0.738, 0.742, 0.742, 0.737,
  0.728, 0.719, 0.71, 0.703, 0.7, 0.7, 0.705, 0.714, 0.727, 0.738,
  0.756, 0.776, 0.798, 0.822, 0.845, 0.885, 0.915, 0.96, 0.998, 1.025,
  1.043, 1.036, 1.04, 1.045, 1.058, 1.078, 1.087, 1.092, 1.094, 1.093,
  1.094, 1.098, 1.1, 1.099, 1.09, 1.078, 1.058, 1.04, 1.018, 1.0,
  0.983, 0.968, 0.952, 0.935, 0.915, 0.898, 0.885,
]

const yearTicks = [2006, 2007, 2008, 2009, 2010, 2011, 2012]
const tecTicks = [0.4, 0.5, 0.6, 0.7, 0.8, 0.9, 1, 1.1, 1.2, 1.3]
const pthTicks = [0.6, 0.7, 0.8, 0.9, 1, 1.1, 1.2, 1.3]

const tecPoints = [...tecColumns, ...tecDenseColumns].flatMap(([x, ys]) => ys.map((tec) => ({ x, tec })))
const pthPoints = pthYears.map((x, i) => ({ x, pth: pthValues[i] }))

const BLUE = '#0b84c5'
const BLUE_TEXT = '#1a8dd0'
const RED = '#ff0000'
const FONT = '"Liberation Sans", Arial, sans-serif'

const tickFont = { fontFamily: FONT, fontSize: 14, fontWeight: 700 }

const OpenCircle = (props: any) => {
  const { cx, cy } = props
  if (cx == null || cy == null) return null
  return <circle cx={cx} cy={cy} r={2.05} fill="none" stroke={BLUE} strokeWidth={1.7} />
}

const fmt = (v: number) => String(v)

export default function App() {
  return (
    <div style={{ position: 'absolute', left: 0, top: 0, width: 971, height: 360, background: '#fff' }}>
      <ComposedChart
        width={971}
        height={360}
        margin={{ top: 13, right: 8, bottom: 3, left: 13 }}
      >
        <XAxis
          type="number"
          dataKey="x"
          domain={[2005.51, 2012.46]}
          allowDataOverflow
          ticks={yearTicks}
          tickFormatter={fmt}
          height={20}
          stroke="#000"
          axisLine={{ stroke: '#000', strokeWidth: 2 }}
          tickLine={{ stroke: '#555', strokeWidth: 1.5 }}
          tickSize={-5}
          tickMargin={11}
          tick={{ ...tickFont, fill: '#111' }}
        />
        <XAxis
          xAxisId="top"
          orientation="top"
          type="number"
          dataKey="x"
          domain={[2005.51, 2012.46]}
          allowDataOverflow
          ticks={yearTicks}
          height={1}
          axisLine={{ stroke: '#222', strokeWidth: 1.5 }}
          tickLine={{ stroke: '#555', strokeWidth: 1.5 }}
          tickSize={-5}
          tick={false}
        />
        <YAxis
          yAxisId="tec"
          type="number"
          domain={[0.4, 1.3]}
          allowDataOverflow
          ticks={tecTicks}
          tickFormatter={fmt}
          width={60}
          axisLine={{ stroke: BLUE_TEXT, strokeWidth: 1.5 }}
          tickLine={{ stroke: BLUE_TEXT, strokeWidth: 1 }}
          tickSize={-5}
          tickMargin={10}
          tick={{ ...tickFont, fill: BLUE_TEXT }}
          label={{
            content: () => (
              <text
                transform="translate(30,193) rotate(-90)"
                textAnchor="middle"
                fill={BLUE_TEXT}
                style={{ fontFamily: FONT, fontSize: 15, fontWeight: 700 }}
              >
                <tspan>TEC  [10</tspan>
                <tspan dy={-7} fontSize={11}>16</tspan>
                <tspan dy={7}> m</tspan>
                <tspan dy={-7} fontSize={11}>-2</tspan>
                <tspan dy={7}>]</tspan>
              </text>
            ),
          }}
        />
        <YAxis
          yAxisId="tecMirror"
          orientation="right"
          type="number"
          domain={[0.4, 1.3]}
          allowDataOverflow
          ticks={tecTicks}
          width={0}
          axisLine={false}
          tickLine={{ stroke: BLUE_TEXT, strokeWidth: 1 }}
          tickSize={-5}
          tick={false}
        />
        <YAxis
          yAxisId="pth"
          orientation="right"
          type="number"
          domain={[0.53, 1.3]}
          allowDataOverflow
          ticks={pthTicks}
          tickFormatter={fmt}
          width={60}
          axisLine={{ stroke: RED, strokeWidth: 1.5 }}
          tickLine={{ stroke: RED, strokeWidth: 1 }}
          tickSize={-5}
          tickMargin={9}
          tick={{ ...tickFont, fill: RED }}
          label={{
            content: () => (
              <text
                transform="translate(946,170) rotate(90)"
                textAnchor="middle"
                fill={RED}
                style={{ fontFamily: FONT, fontSize: 15, fontWeight: 700 }}
              >
                Pth (at Peak) - Psw  [nPa]
              </text>
            ),
          }}
        />
        <Scatter
          yAxisId="tec"
          data={tecPoints}
          dataKey="tec"
          shape={OpenCircle}
          isAnimationActive={false}
        />
        <Line
          yAxisId="pth"
          data={pthPoints}
          dataKey="pth"
          type="linear"
          stroke={RED}
          strokeWidth={2}
          dot={false}
          activeDot={false}
          isAnimationActive={false}
        />
      </ComposedChart>
      <div
        style={{
          position: 'absolute',
          left: 88,
          top: 19,
          width: 170,
          height: 49,
          background: '#f3f6fa',
        }}
      >
        <svg width={170} height={49} style={{ position: 'absolute', left: 0, top: 0 }}>
          <circle cx={28} cy={13} r={2.05} fill="none" stroke={BLUE} strokeWidth={1.7} />
          <line x1={9} y1={35} x2={52} y2={35} stroke={RED} strokeWidth={2} />
          <text x={52} y={19} style={{ fontFamily: FONT, fontWeight: 700, fontSize: 15 }} fill="#111">
            SZA 68 - 73 deg
          </text>
          <text x={60} y={41} style={{ fontFamily: FONT, fontWeight: 700, fontSize: 15, whiteSpace: 'pre' }} fill="#111" xmlSpace="preserve">
            SZA  70  deg
          </text>
        </svg>
      </div>
    </div>
  )
}
